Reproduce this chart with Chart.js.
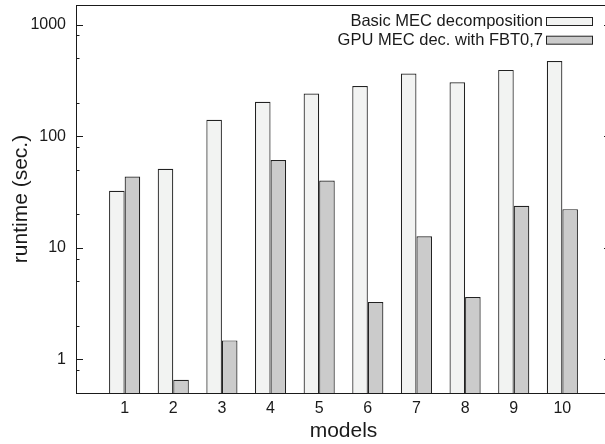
<!DOCTYPE html>
<html>
<head>
<meta charset="utf-8">
<script src="https://cdn.jsdelivr.net/npm/chart.js@4/dist/chart.umd.min.js"></script>
<style>
  body { margin: 0; background: #fff; overflow: hidden; }
  #wrap { width: 605px; height: 444px; overflow: hidden; }
</style>
</head>
<body>
<div id="wrap"><canvas id="myChart" width="620" height="444"></canvas></div>
<script>
var models = [1, 2, 3, 4, 5, 6, 7, 8, 9, 10];
var basicMec = [32.4, 51.1, 140.6, 204, 241, 282, 364, 304, 393, 473];
var gpuMec = [43.6, 0.656, 1.48, 61.1, 40.1, 3.27, 12.7, 3.62, 23.8, 22.2];
var seriesNames = ["Basic MEC decomposition", "GPU MEC dec. with FBT0,7"];
var majorTicks = [1, 10, 100, 1000];
var minorTicks = [0.8, 2, 5, 8, 20, 50, 80, 200, 500, 800];

var fontFamily = "'Liberation Sans', Arial, Helvetica, sans-serif";
var inkColor = "#1a1a1a";

function points(values) {
  return models.map(function (m, i) { return { x: m, y: values[i] }; });
}

// frame, inward tick marks (both sides) and the legend in the top right corner
var framePlugin = {
  id: "frame",
  afterDraw: function (chart) {
    var c = chart.ctx;
    var a = chart.chartArea;
    var yScale = chart.scales.y;
    c.save();
    c.strokeStyle = inkColor;
    c.lineWidth = 1;
    c.strokeRect(a.left + 0.5, a.top + 0.5, a.right - a.left, a.bottom - a.top);

    var drawTick = function (v, len) {
      var py = Math.round(yScale.getPixelForValue(v)) + 0.5;
      c.beginPath();
      c.moveTo(a.left, py); c.lineTo(a.left + len, py);
      c.moveTo(a.right, py); c.lineTo(a.right - len, py);
      c.stroke();
    };
    majorTicks.forEach(function (v) { drawTick(v, 7); });
    minorTicks.forEach(function (v) { drawTick(v, 3.5); });

    // legend: text right aligned, box on the right
    c.font = "16.5px " + fontFamily;
    c.textAlign = "right";
    c.textBaseline = "alphabetic";
    chart.data.datasets.forEach(function (ds, i) {
      var base = 26 + i * 18.7;
      c.fillStyle = inkColor;
      c.fillText(ds.label, 543, base);
      c.fillStyle = ds.backgroundColor;
      c.fillRect(546.5, base - 8.5, 46, 8);
      c.strokeStyle = "#222";
      c.strokeRect(546.5, base - 8.5, 46, 8);
    });
    c.restore();
  }
};

var ctx = document.getElementById("myChart").getContext("2d");
var myChart = new Chart(ctx, {
  type: "bar",
  data: {
    datasets: [
      {
        label: seriesNames[0],
        data: points(basicMec),
        backgroundColor: "#f2f3f2",
        borderColor: "#222",
        borderWidth: 1.2
      },
      {
        label: seriesNames[1],
        data: points(gpuMec),
        backgroundColor: "#cbcbcb",
        borderColor: "#222",
        borderWidth: 1.2
      }
    ]
  },
  options: {
    responsive: false,
    animation: false,
    categoryPercentage: 0.64,
    barPercentage: 1.0,
    layout: { padding: { top: 5, right: 9, left: 0, bottom: 0 } },
    plugins: {
      legend: { display: false },
      tooltip: { enabled: false }
    },
    scales: {
      x: {
        type: "linear",
        min: 0,
        max: 11,
        offset: false,
        grid: { display: false, drawTicks: false, offset: false },
        border: { display: false },
        ticks: {
          stepSize: 1,
          padding: 6,
          color: inkColor,
          maxRotation: 0,
          autoSkip: false,
          font: { family: fontFamily, size: 16 },
          callback: function (v) { return (v >= 1 && v <= 10) ? String(v) : ""; }
        },
        title: {
          display: true,
          text: "models",
          color: inkColor,
          padding: { top: 0, bottom: 0 },
          font: { family: fontFamily, size: 21 }
        },
        afterFit: function (s) {
          s.height = 51;
          s.paddingLeft = 0;
          s.paddingRight = 0;
        }
      },
      y: {
        type: "logarithmic",
        min: 0.5,
        max: 1500,
        grid: { display: false, drawTicks: false },
        border: { display: false },
        afterBuildTicks: function (s) {
          s.ticks = majorTicks.map(function (v) { return { value: v, major: true }; });
        },
        ticks: {
          padding: 10,
          color: inkColor,
          font: { family: fontFamily, size: 16 },
          callback: function (v) { return String(v); }
        },
        title: {
          display: true,
          text: "runtime (sec.)",
          color: inkColor,
          padding: { top: 9, bottom: 0 },
          font: { family: fontFamily, size: 21 }
        },
        afterFit: function (s) {
          s.width = 76;
          s.paddingTop = 0;
          s.paddingBottom = 0;
        }
      }
    }
  },
  plugins: [framePlugin]
});
</script>
</body>
</html>
